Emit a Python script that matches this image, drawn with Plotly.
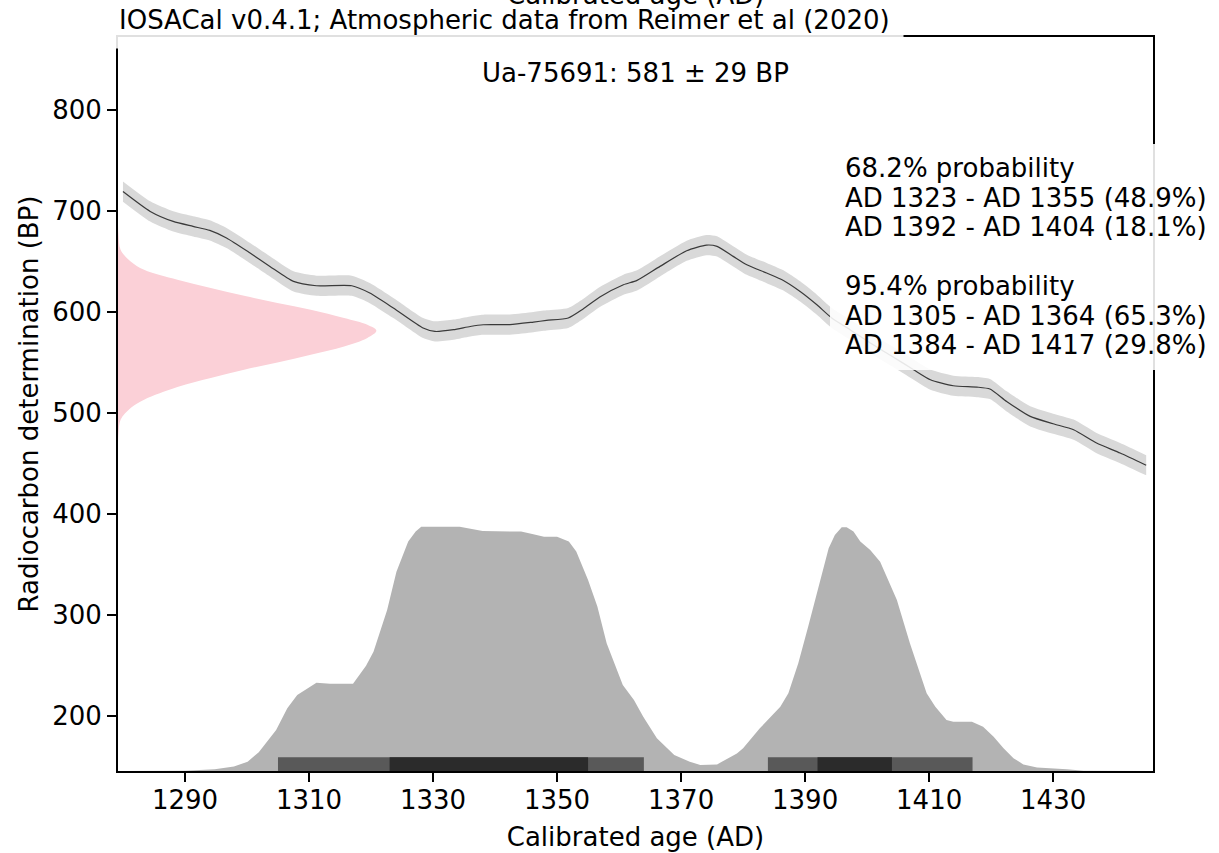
import plotly.graph_objects as go

# calibration curve (IntCal20)
curve_years = [1280.0, 1284.4, 1288.1, 1291.3, 1294.0, 1296.7, 1300.5, 1303.7, 1307.5, 1311.2,
               1316.9, 1319.8, 1323.6, 1328.4, 1330.3, 1333.3, 1336.0, 1338.1, 1342.4, 1346.2,
               1348.3, 1351.8, 1354.2, 1356.9, 1360.7, 1362.9, 1366.6, 1370.9, 1374.1, 1375.8,
               1378.4, 1380.6, 1383.8, 1386.5, 1389.2, 1391.9, 1394.3, 1397.3, 1400.5, 1404.0,
               1407.5, 1410.2, 1413.9, 1417.7, 1419.8, 1422.5, 1426.3, 1430.0, 1433.3, 1437.0,
               1440.8, 1445.0]
curve_bp = [719.0, 699.3, 689.4, 684.5, 680.5, 673.0, 658.1, 644.9, 630.0, 625.7,
            625.7, 618.5, 603.7, 583.9, 580.5, 582.2, 585.4, 587.1, 587.3, 589.8,
            591.4, 593.8, 602.7, 614.6, 626.7, 631.0, 644.9, 660.4, 666.0, 664.7,
            654.8, 646.5, 638.3, 631.0, 620.1, 606.9, 593.8, 582.0, 569.0, 556.0,
            542.6, 532.7, 526.7, 525.4, 523.5, 511.2, 496.4, 489.1, 483.2, 470.0,
            460.1, 448.0]
curve_err = [10] * len(curve_bp)

# radiocarbon determination (pink), relative density by BP
c14_bp = [686, 676, 661.4, 649.8, 641.6, 631.7, 623.5, 615.8, 608.6, 602, 593.8, 587.1, 581.2,
          574, 565.7, 557.4, 549.8, 542.6, 534.4, 525.5, 512.9, 504.6, 493, 479.9, 470]
c14_dens = [0, 0.002, 0.010, 0.049, 0.101, 0.230, 0.359, 0.488, 0.617, 0.746, 0.875, 0.965, 1.0,
            0.965, 0.875, 0.746, 0.617, 0.488, 0.359, 0.230, 0.101, 0.049, 0.010, 0.002, 0]

# calibrated age distribution (grey), relative probability
cal_years = [1280, 1290, 1294.8, 1297.9, 1300.1, 1301.9, 1304.7, 1306.5, 1308.1, 1311.2, 1313.4,
             1317.1, 1319.2, 1320.4, 1322.6, 1324.1, 1326, 1327.2, 1328.1, 1334.3, 1338, 1344.2,
             1346, 1347.9, 1350, 1351.9, 1353.1, 1355, 1356.5, 1358, 1360.6, 1362.4, 1363.9,
             1366.1, 1368.9, 1371.4, 1373.1, 1375.8, 1379, 1380, 1382.7, 1386, 1387.3, 1388.9,
             1390.5, 1391.9, 1393, 1393.8, 1394.8, 1395.9, 1396.7, 1397.8, 1398.9, 1400.5,
             1402.1, 1404.8, 1406.9, 1409.6, 1411, 1412.8, 1413.9, 1416.9, 1418.7, 1420.4, 1422,
             1423.6, 1425.2, 1427.4, 1432.2, 1434.9, 1446]
cal_prob = [0, 0.001, 0.007, 0.018, 0.038, 0.077, 0.168, 0.257, 0.311, 0.361, 0.357,
            0.357, 0.431, 0.488, 0.659, 0.816, 0.939, 0.980, 1.0, 1.0, 0.982, 0.980,
            0.970, 0.959, 0.959, 0.939, 0.898, 0.782, 0.673, 0.523, 0.352, 0.291, 0.222,
            0.134, 0.065, 0.038, 0.025, 0.027, 0.072, 0.093, 0.175, 0.263, 0.318, 0.441,
            0.591, 0.727, 0.843, 0.912, 0.966, 0.998, 0.998, 0.980, 0.939, 0.905,
            0.857, 0.700, 0.523, 0.318, 0.263, 0.209, 0.202, 0.202, 0.181, 0.140, 0.093,
            0.052, 0.027, 0.014, 0.007, 0.001, 0]

ranges_95 = [(1305, 1364), (1384, 1417)]
ranges_68 = [(1323, 1355), (1392, 1404)]

x_ticks = [1290, 1310, 1330, 1350, 1370, 1390, 1410, 1430]
y_ticks = [200, 300, 400, 500, 600, 700, 800]

title_text = 'IOSACal v0.4.1; Atmospheric data from Reimer et al (2020)'
date_text = 'Ua-75691: 581 ± 29 BP'
interval_lines = ['68.2% probability', 'AD 1323 - AD 1355 (48.9%)', 'AD 1392 - AD 1404 (18.1%)', '',
                  '95.4% probability', 'AD 1305 - AD 1364 (65.3%)', 'AD 1384 - AD 1417 (29.8%)']

FONT = 'DejaVu Sans'
W, H = 1219, 853
L, R, T, B = 118, 66, 37, 82
PH = H - T - B
PW = W - L - R

fig = go.Figure()

# curve band
smooth = dict(shape='spline', smoothing=0.6)
fig.add_trace(go.Scatter(x=curve_years, y=[b + e for b, e in zip(curve_bp, curve_err)],
                         mode='lines', line=dict(width=0, **smooth), hoverinfo='skip',
                         showlegend=False))
fig.add_trace(go.Scatter(x=curve_years, y=[b - e for b, e in zip(curve_bp, curve_err)],
                         mode='lines', line=dict(width=0, **smooth), fill='tonexty',
                         fillcolor='#d9d9d9', hoverinfo='skip', showlegend=False))
fig.add_trace(go.Scatter(x=curve_years, y=curve_bp, mode='lines',
                         line=dict(color='#3a3a3a', width=1.2, **smooth), showlegend=False))

# radiocarbon date
fig.add_trace(go.Scatter(x=c14_dens, y=c14_bp, xaxis='x2', yaxis='y', mode='lines',
                         line=dict(width=0, shape='spline'), fill='tozerox',
                         fillcolor='#fbd0d7', showlegend=False))

# calibrated distribution
fig.add_trace(go.Scatter(x=cal_years, y=cal_prob, xaxis='x', yaxis='y2', mode='lines',
                         line=dict(width=0), fill='tozeroy', fillcolor='#b3b3b3',
                         showlegend=False))

bar_h = 0.056
for ranges, col in [(ranges_95, '#595959'), (ranges_68, '#2b2b2b')]:
    for a, b in ranges:
        fig.add_trace(go.Scatter(x=[a, a, b, b, a], y=[0, bar_h, bar_h, 0, 0],
                                 xaxis='x', yaxis='y2', mode='lines', line=dict(width=0),
                                 fill='toself', fillcolor=col, showlegend=False))

axis_common = dict(showgrid=False, zeroline=False, showline=True, linecolor='black',
                   linewidth=2, mirror=True, ticks='outside', ticklen=9, tickwidth=2,
                   tickcolor='black', automargin=False,
                   tickfont=dict(family=FONT, size=26, color='black'))

fig.update_layout(
    width=W, height=H,
    margin=dict(l=L, r=R, t=T, b=B),
    paper_bgcolor='white', plot_bgcolor='white',
    font=dict(family=FONT, size=26, color='black'),
    showlegend=False,
    xaxis=dict(range=[1279.2, 1446.1], tickvals=x_ticks, ticklabelstandoff=-4,
               title=dict(text='Calibrated age (AD)', font=dict(size=26), standoff=14),
               **axis_common),
    yaxis=dict(range=[145.3, 872.0], tickvals=y_ticks,
               title=dict(text='Radiocarbon determination (BP)', font=dict(size=26), standoff=6),
               **axis_common),
    xaxis2=dict(overlaying='x', range=[0, PW / 258.4], visible=False),
    yaxis2=dict(overlaying='y', range=[0, PH / 244.3], visible=False),
)

# text box behind interval list
fig.add_shape(type='rect', xref='paper', yref='paper', layer='above',
              x0=(830 - L) / PW, x1=(1230 - L) / PW,
              y0=(H - B - 370) / PH, y1=(H - B - 144) / PH,
              fillcolor='rgba(255,255,255,0.88)', line=dict(width=0))

for i, line in enumerate(interval_lines):
    if not line:
        continue
    yc = 168 + i * 29.5
    fig.add_annotation(text=line, xref='paper', yref='paper', x=(843 - L) / PW,
                       y=(H - B - yc) / PH, xanchor='left', yanchor='middle',
                       showarrow=False, font=dict(family=FONT, size=26))

fig.add_annotation(text=date_text, xref='paper', yref='paper', x=0.5, y=(H - B - 73) / PH,
                   xanchor='center', yanchor='middle', showarrow=False,
                   font=dict(family=FONT, size=26))

fig.add_annotation(text=title_text, xref='paper', yref='paper', x=-13 / PW,
                   y=(H - B - 20) / PH, xanchor='left', yanchor='middle', showarrow=False,
                   bgcolor='rgba(255,255,255,0.88)', borderpad=13,
                   font=dict(family=FONT, size=26))

# top axis label, cut off at the page edge
fig.add_annotation(text='Calibrated age (AD)', xref='paper', yref='paper', x=0.5,
                   y=(H - B + 5) / PH, xanchor='center', yanchor='middle', showarrow=False,
                   font=dict(family=FONT, size=26))

# drop the default page margin so the figure sits at the window corner
fig.write_html('out.html', config={'displayModeBar': False},
               post_script="document.body.style.margin='0';")
